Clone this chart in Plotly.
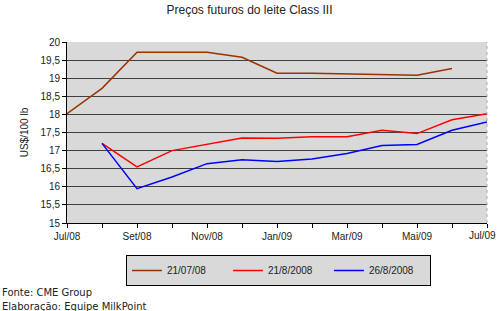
import plotly.graph_objects as go

months = ["Jul/08", "Ago/08", "Set/08", "Out/08", "Nov/08", "Dez/08", "Jan/09",
          "Fev/09", "Mar/09", "Abr/09", "Mai/09", "Jun/09", "Jul/09"]
tick_labels = ["Jul/08", "", "Set/08", "", "Nov/08", "", "Jan/09",
               "", "Mar/09", "", "Mai/09", "", "Jul/09"]
s_210708 = [18.02, 18.72, 19.72, 19.72, 19.72, 19.58, 19.14, 19.14, 19.12, 19.08, 19.08, 19.27, None]
s_210808 = [None, 17.2, 16.55, 17.0, 17.17, 17.35, 17.34, 17.38, 17.38, 17.56, 17.47, 17.85, 18.02]
s_260808 = [None, 17.2, 15.95, 16.27, 16.64, 16.75, 16.7, 16.77, 16.92, 17.14, 17.17, 17.56, 17.79]
y_ticks = [15, 15.5, 16, 16.5, 17, 17.5, 18, 18.5, 19, 19.5, 20]

x = list(range(len(months)))
FONT = "Liberation Sans"
FOOT = "DejaVu Sans"

fig = go.Figure()
for name, vals, col in [("21/07/08", s_210708, "#993300"),
                        ("21/8/2008", s_210808, "#FF0000"),
                        ("26/8/2008", s_260808, "#0000FF")]:
    fig.add_trace(go.Scatter(x=x, y=vals, name=name, mode="lines",
                             line=dict(color=col, width=1.5)))

# last tick label is drawn as annotation so it stays inside the picture
axis_labels = tick_labels[:-1] + [""]

fig.update_layout(
    width=499, height=311,
    margin=dict(l=67, r=12, t=42, b=88, autoexpand=False),
    paper_bgcolor="white", plot_bgcolor="#D9D9D9",
    separators=",.",
    font=dict(family=FONT, size=10, color="#222"),
    title=dict(text="Preços futuros do leite Class III", x=0.5, xanchor="center",
               y=0.968, yanchor="middle", font=dict(family=FONT, size=12, color="#222")),
    showlegend=True,
    legend=dict(orientation="h", xref="container", yref="container",
                x=0.558, xanchor="center", y=1 - 255 / 311, yanchor="top",
                bgcolor="#D9D9D9", bordercolor="black", borderwidth=1,
                font=dict(family=FONT, size=10, color="#222"), itemwidth=30,
                entrywidth=56, tracegroupgap=0),
)
fig.update_xaxes(range=[0, 12], tickvals=x, ticktext=axis_labels, showgrid=False,
                 showline=True, linecolor="black", linewidth=1, ticks="outside",
                 ticklen=4, tickcolor="black", tickfont=dict(family=FONT, size=10),
                 zeroline=False)
fig.update_yaxes(range=[15, 20], tickvals=y_ticks,
                 ticktext=[str(v).replace(".", ",").replace(",0", "") for v in y_ticks],
                 showgrid=True, gridcolor="#404040", gridwidth=1,
                 showline=True, linecolor="black", linewidth=1, ticks="outside",
                 ticklen=4, tickcolor="black", mirror=False, zeroline=False,
                 title=dict(text="US$/100 lb", font=dict(family=FONT, size=10), standoff=10),
                 tickfont=dict(family=FONT, size=10))
fig.add_shape(type="line", xref="paper", yref="paper", x0=1, x1=1, y0=0, y1=1,
              line=dict(color="#AAAAAA", width=1, dash="dot"))
fig.add_annotation(text=tick_labels[-1], xref="paper", yref="paper",
                   x=1 + 11.5 / 420, xanchor="right", y=0, yanchor="top", yshift=-5,
                   showarrow=False, font=dict(family=FONT, size=10, color="#222"))
fig.add_annotation(text="Fonte: CME Group", xref="paper", yref="paper",
                   x=-67/420, xanchor="left", y=-69/181, yanchor="middle",
                   showarrow=False, font=dict(family=FOOT, size=10, color="#222"))
fig.add_annotation(text="Elaboração: Equipe MilkPoint", xref="paper", yref="paper",
                   x=-67/420, xanchor="left", y=-83/181, yanchor="middle",
                   showarrow=False, font=dict(family=FOOT, size=10, color="#222"))

fig.write_html("out.html")
